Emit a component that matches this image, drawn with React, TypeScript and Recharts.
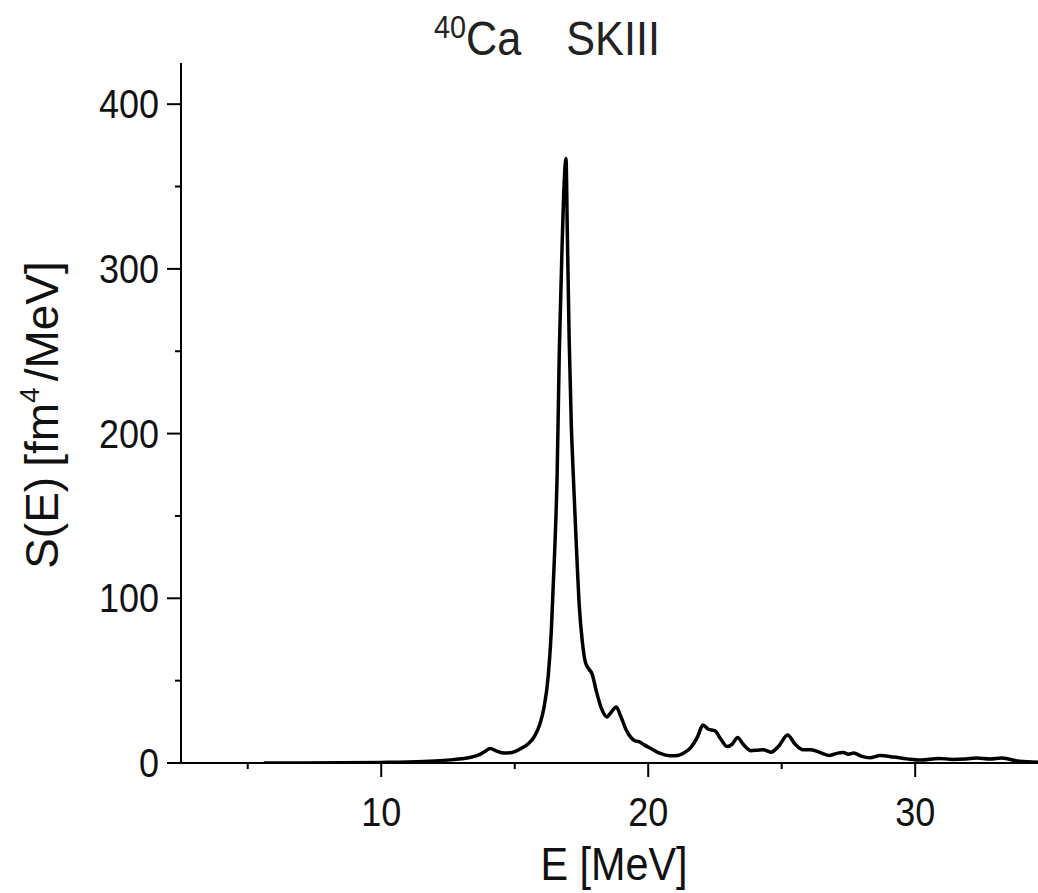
import { Line, LineChart, XAxis, YAxis } from "recharts";

const energy = [
  5.6, 7.0, 8.5, 10.0, 11.0, 12.0, 12.6, 13.0, 13.4, 13.7, 13.9, 14.08, 14.3, 14.6, 14.9, 15.2, 15.5,
  15.75, 15.95, 16.1, 16.25, 16.37, 16.44, 16.5, 16.59, 16.67, 16.78, 16.86, 16.92, 16.97, 17.04,
  17.12, 17.19, 17.3, 17.42, 17.53, 17.65, 17.78, 17.9, 18.05, 18.25, 18.45, 18.62, 18.8, 18.98,
  19.15, 19.35, 19.5, 19.65, 19.85, 20.1, 20.45, 20.8, 21.1, 21.35, 21.6, 21.85, 22.05, 22.25, 22.5,
  22.7, 22.95, 23.15, 23.35, 23.55, 23.85, 24.1, 24.3, 24.6, 24.9, 25.22, 25.5, 25.8, 26.1, 26.45,
  26.8, 27.1, 27.3, 27.5, 27.7, 28.0, 28.3, 28.7, 29.2, 29.7, 30.2, 30.9, 31.4, 31.9, 32.3, 32.8,
  33.25, 33.9, 34.6,
];

const strength = [
  0.0, 0.05, 0.15, 0.35, 0.6, 1.2, 1.9, 2.6, 3.6, 5.2, 7.2, 8.8, 7.4, 6.0, 6.4, 8.5, 11.5,
  16.5, 24, 34, 52, 80, 107, 130, 176, 250, 317, 355, 367, 322, 257,
  205, 176, 135, 95, 74, 61, 57, 54, 44, 33, 28, 31, 34, 28,
  21, 15.5, 13.5, 13, 11, 8.8, 5.8, 4.4, 4.6, 6.2, 9.5, 16, 23, 20.5, 19.5,
  15, 10, 11.5, 15.5, 11.5, 7.5, 7.8, 8, 6.6, 10.5, 17, 11.5, 8, 8, 6.3,
  4.6, 6, 6.3, 5.3, 6, 4, 3.2, 4.6, 3.6, 2.5, 1.8, 2.8, 2.2, 2.5, 3, 2.4,
  3, 1, 0.5,
];

const xTicks = [5, 10, 15, 20, 25, 30];
const xMajor = [10, 20, 30];
const yTicks = [0, 50, 100, 150, 200, 250, 300, 350, 400];
const yMajor = [0, 100, 200, 300, 400];

const data = energy.map((e, i) => ({ e, s: strength[i] }));

const FONT = "'Liberation Sans', Arial, sans-serif";
const INK = "#111";
// the original font is a bit taller and narrower than Liberation Sans
const NARROW = 0.9;

function XTick(props: any) {
  const { x, y, payload } = props;
  const major = xMajor.includes(payload.value);
  return (
    <g>
      <line x1={x} x2={x} y1={y} y2={y + (major ? 14 : 6)} stroke="#000" strokeWidth={2} />
      {major && (
        <text
          transform={`translate(${x}, ${y + 63}) scale(${NARROW}, 1)`}
          textAnchor="middle"
          fontSize={40}
          fontFamily={FONT}
          fill={INK}
        >
          {payload.value}
        </text>
      )}
    </g>
  );
}

function YTick(props: any) {
  const { x, y, payload } = props;
  const major = yMajor.includes(payload.value);
  return (
    <g>
      <line x1={x - (major ? 14 : 6)} x2={x} y1={y} y2={y} stroke="#000" strokeWidth={2} />
      {major && (
        <text
          transform={`translate(${x - 22}, ${y + 14}) scale(${NARROW}, 1)`}
          textAnchor="end"
          fontSize={40}
          fontFamily={FONT}
          fill={INK}
        >
          {payload.value}
        </text>
      )}
    </g>
  );
}

export default function App() {
  return (
    <div style={{ position: "absolute", left: 0, top: 0, width: 1038, height: 893, background: "#fff" }}>
      <LineChart width={1038} height={893} data={data} margin={{ top: 63, right: 0, bottom: 0, left: 0 }}>
        <XAxis
          dataKey="e"
          type="number"
          domain={[2.5, 34.6]}
          ticks={xTicks}
          interval={0}
          height={130}
          tickSize={0}
          tickMargin={0}
          tickLine={false}
          axisLine={{ stroke: "#000", strokeWidth: 2 }}
          tick={<XTick />}
          allowDataOverflow
        />
        <YAxis
          type="number"
          domain={[0, 425]}
          ticks={yTicks}
          interval={0}
          width={181}
          tickSize={0}
          tickMargin={0}
          tickLine={false}
          axisLine={{ stroke: "#000", strokeWidth: 2 }}
          tick={<YTick />}
          allowDataOverflow
        />
        <Line
          dataKey="s"
          type="monotone"
          stroke="#000"
          strokeWidth={3.5}
          dot={false}
          activeDot={false}
          isAnimationActive={false}
        />
      </LineChart>
      <svg
        width={1038}
        height={893}
        style={{ position: "absolute", left: 0, top: 0, pointerEvents: "none" }}
      >
        <text
          transform={`translate(547, 55) scale(${NARROW}, 1)`}
          textAnchor="middle"
          fontFamily={FONT}
          fill="#222"
          fontSize={48}
        >
          <tspan fontSize={32} dy={-17}>40</tspan>
          <tspan dy={17}>Ca</tspan>
          <tspan dx={50}>SKIII</tspan>
        </text>
        <text
          transform={`translate(614, 880) scale(${NARROW}, 1)`}
          textAnchor="middle"
          fontFamily={FONT}
          fill={INK}
          fontSize={46}
        >
          E [MeV]
        </text>
        <g transform="translate(58, 415) rotate(-90)">
          <text x={0} y={0} textAnchor="middle" fontFamily={FONT} fill={INK} fontSize={46}>
            S(E)<tspan dx={10}>[fm</tspan>
            <tspan fontSize={28} dy={-19}>4</tspan>
            <tspan dx={6} dy={19}>/MeV]</tspan>
          </text>
        </g>
      </svg>
    </div>
  );
}
